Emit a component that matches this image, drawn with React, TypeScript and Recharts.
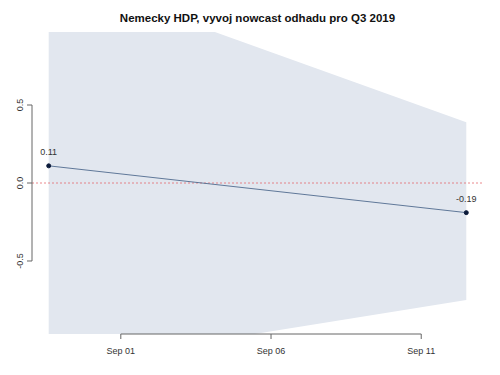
import React from 'react';
import { ComposedChart, Area, Line, XAxis, YAxis, ReferenceLine, LabelList } from 'recharts';

// days relative to Sep 01 2019
const dates = [-2.4, 11.5];
const nowcast = [0.11, -0.19];
const upperBound = [1.35, 0.39];
const lowerBound = [-1.18, -0.75];
const xTicks = [0, 5, 10];
const xTickLabels = ['Sep 01', 'Sep 06', 'Sep 11'];
const yTicks = [0.5, 0, -0.5];
const yTickLabels = ['0.5', '0.0', '-0.5'];
const title = 'Nemecky HDP, vyvoj nowcast odhadu pro Q3 2019';

const Y_LIMIT = 0.968;

const data = dates.map((d, i) => ({
  day: d,
  value: nowcast[i],
  band: [lowerBound[i], upperBound[i]],
  label: nowcast[i].toFixed(2),
}));

const xMin = Math.min(...dates);
const xMax = Math.max(...dates);
const xExt = (xMax - xMin) * 0.04;
const xDomain: [number, number] = [xMin - xExt, xMax + xExt];

const FONT = '"Liberation Sans", Arial, Helvetica, sans-serif';
const AXIS = '#666';

const YTick = (props: any) => {
  const { x, y, payload } = props;
  const idx = yTicks.indexOf(payload.value);
  const tx = x - 2;
  return (
    <text
      x={tx}
      y={y}
      transform={`rotate(-90, ${tx}, ${y})`}
      textAnchor="middle"
      fontSize={9}
      fill="#333"
      fontFamily={FONT}
    >
      {yTickLabels[idx]}
    </text>
  );
};

export default function App() {
  return (
    <div style={{ position: 'absolute', left: 0, top: 0, width: 500, height: 375, background: '#fff' }}>
      <svg width={500} height={30} style={{ position: 'absolute', left: 0, top: 0 }}>
        <text x={257.5} y={21.5} textAnchor="middle" fontSize={11.5} fontWeight="bold" fontFamily={FONT} fill="#111">
          {title}
        </text>
      </svg>
      <div style={{ position: 'absolute', left: 0, top: 0 }}>
        <ComposedChart width={500} height={375} data={data} margin={{ top: 32, right: 17, left: 0, bottom: 0 }}>
          <XAxis
            type="number"
            dataKey="day"
            domain={xDomain}
            allowDataOverflow
            ticks={xTicks}
            tickFormatter={(v: number) => xTickLabels[xTicks.indexOf(v)]}
            axisLine={false}
            tickLine={{ stroke: AXIS }}
            tickSize={5}
            tickMargin={9}
            height={41}
            tick={{ fontSize: 9, fill: '#333', fontFamily: FONT }}
            interval={0}
          />
          <YAxis
            type="number"
            domain={[-Y_LIMIT, Y_LIMIT]}
            allowDataOverflow
            ticks={yTicks}
            axisLine={false}
            tickLine={{ stroke: AXIS }}
            tickSize={5}
            tickMargin={2}
            width={32}
            tick={<YTick />}
            interval={0}
          />
          <Area
            type="linear"
            dataKey="band"
            stroke="none"
            fill="#e2e7ef"
            fillOpacity={1}
            isAnimationActive={false}
            activeDot={false}
          />
          <ReferenceLine y={0} stroke="#e56a70" strokeDasharray="2 2" strokeWidth={0.8} />
          <Line
            type="linear"
            dataKey="value"
            stroke="#506b8f"
            strokeWidth={0.9}
            dot={{ r: 2, fill: '#0b1a3a', stroke: '#0b1a3a', strokeWidth: 1 }}
            activeDot={false}
            isAnimationActive={false}
          >
            <LabelList dataKey="label" position="top" offset={11} fontSize={9} fill="#333" fontFamily={FONT} />
          </Line>
          <ReferenceLine
            segment={[{ x: xDomain[0], y: yTicks[0] }, { x: xDomain[0], y: yTicks[yTicks.length - 1] }]}
            stroke={AXIS}
            ifOverflow="visible"
          />
          <ReferenceLine
            segment={[{ x: xTicks[0], y: -Y_LIMIT }, { x: xTicks[xTicks.length - 1], y: -Y_LIMIT }]}
            stroke={AXIS}
            ifOverflow="visible"
          />
        </ComposedChart>
      </div>
    </div>
  );
}
